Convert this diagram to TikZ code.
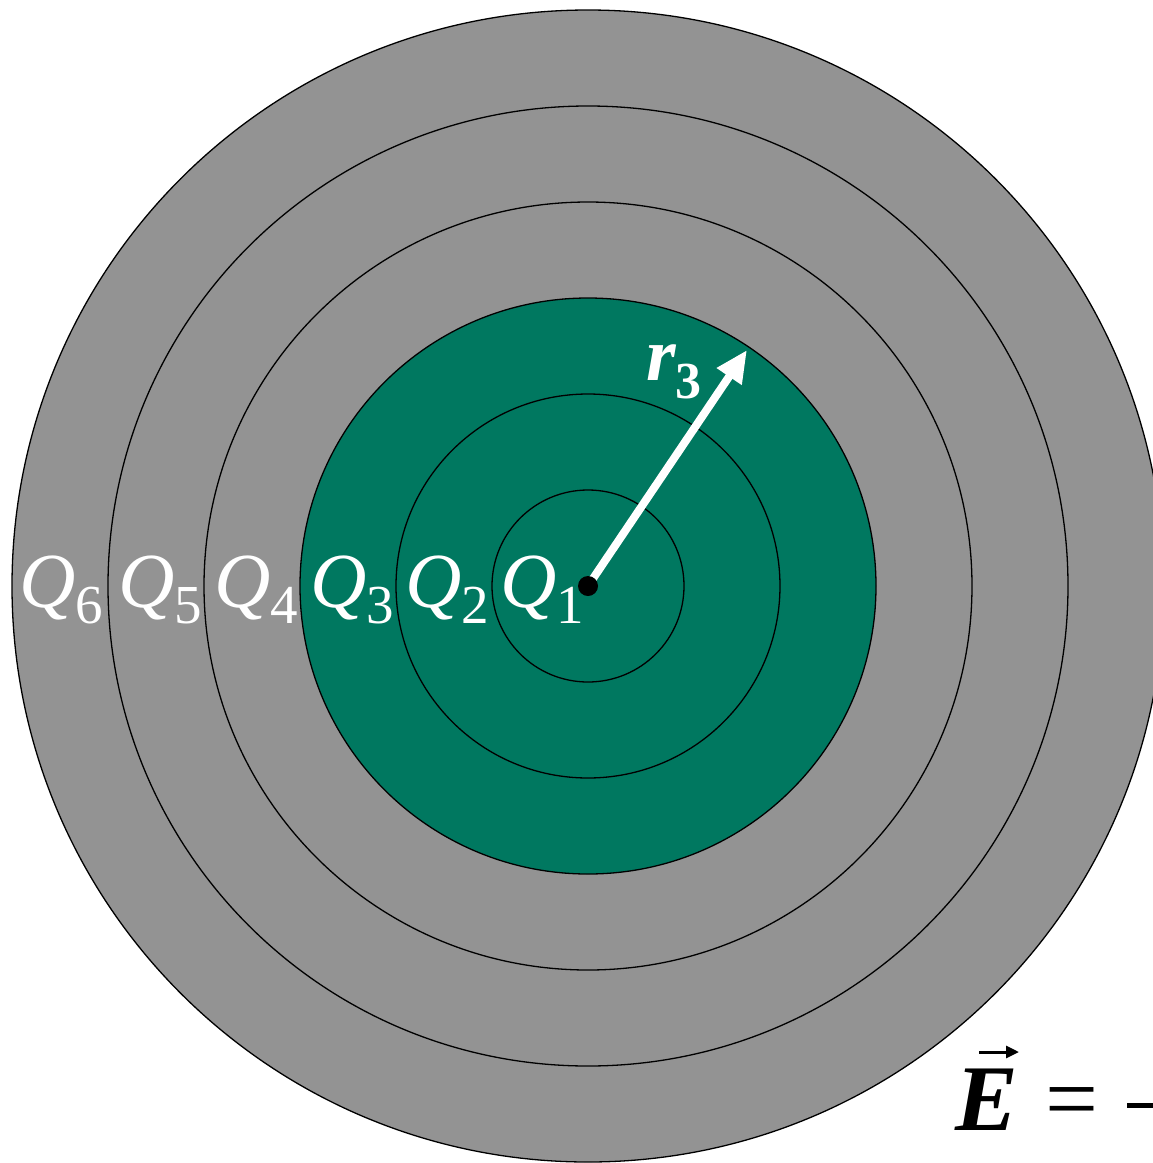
\documentclass[tikz,border=0pt]{standalone}
\usepackage{fontspec}
\setmainfont{LiberationSerif}[Extension=.ttf,UprightFont=*-Regular,ItalicFont=*-Italic,BoldFont=*-Bold,BoldItalicFont=*-BoldItalic]
\usetikzlibrary{arrows.meta}
\definecolor{ringgray}{RGB}{147,147,147}
\definecolor{ringgreen}{RGB}{0,120,96}
\newcommand{\qsub}[1]{\raisebox{-16pt}{\fontsize{55}{55}\selectfont\upshape #1}}
\begin{document}
\begin{tikzpicture}[x=1pt,y=-1pt,
  ring/.style={draw=black,line width=1.3pt},
  qlab/.style={anchor=base west,inner sep=0pt,text=white,font=\fontsize{78}{80}\selectfont\itshape}]
\useasboundingbox (0,0) rectangle (1153,1163);
\clip (0,0) rectangle (1153,1163);
\coordinate (O) at (588,586);
\foreach \k/\c in {6/ringgray,5/ringgray,4/ringgray,3/ringgreen,2/ringgreen,1/ringgreen}
  \draw[ring,fill=\c] (O) circle[radius=96*\k];
\node[qlab] (q6) at (19,607) {Q\qsub{6}};
\node[qlab] (q5) at (118,607) {Q\qsub{5}};
\node[qlab] (q4) at (214,607) {Q\qsub{4}};
\node[qlab] (q3) at (310,607) {Q\qsub{3}};
\node[qlab] (q2) at (405,607) {Q\qsub{2}};
\node[qlab] (q1) at (500,607) {Q\qsub{1}};
\coordinate (tip) at (747,350);
\draw[white,line width=8pt,-{Triangle[length=32pt,width=28pt]}] (O) -- (tip);
\fill[black] (O) circle[radius=10];
\node[anchor=base west,inner sep=0pt,text=white,font=\fontsize{76}{76}\selectfont\bfseries\itshape] (r3) at (646,380)
  {r\raisebox{-18pt}{\fontsize{52}{52}\selectfont\bfseries\upshape 3}};
\node[anchor=base west,inner sep=0pt,font=\fontsize{94}{94}\selectfont\bfseries\itshape] (E) at (955,1130) {E};
\node[anchor=base west,inner sep=0pt,font=\fontsize{94}{94}\selectfont] (eq) at (1045,1130) {=};
\coordinate (arrL) at (979,1052);
\coordinate (arrR) at (1019,1052);
\draw[line width=3pt,-{Triangle[length=13pt,width=12pt]}] (arrL) -- (arrR);
\coordinate (barL) at (1127,1105);
\coordinate (barR) at (1160,1105);
\draw[line width=5pt] (barL) -- (barR);
\end{tikzpicture}
\end{document}
